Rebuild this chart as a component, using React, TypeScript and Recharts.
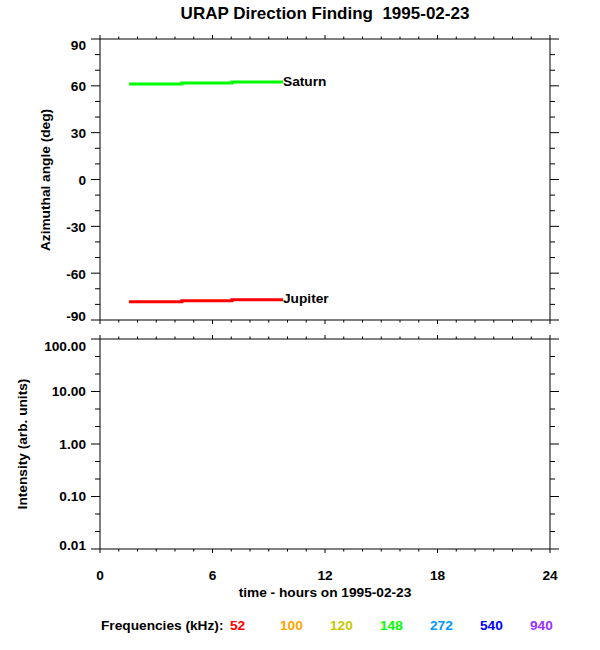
import React from 'react';
import { LineChart, Line, XAxis, YAxis } from 'recharts';

// Direction finding segments (hour of day, azimuth in degrees)
const hours = [1.55, 4.37, 7.04, 9.76];
const saturnDeg = [61.1, 61.8, 62.4, 62.4];
const jupiterDeg = [-78.3, -77.7, -77.0, -77.0];

const hourTicks = Array.from({ length: 25 }, (_, i) => i);
const hourLabels = [0, 6, 12, 18, 24];
const angleTicks = Array.from({ length: 19 }, (_, i) => -90 + i * 10);
const angleLabels = [-90, -60, -30, 0, 30, 60, 90];
const intensityLabels = [0.01, 0.1, 1, 10, 100];
const intensityTicks = [-2, -1, 0, 1].flatMap(k => [k, k + 1 / 3, k + 2 / 3].map(e => Math.pow(10, e))).concat([100]);

const freqLabels = ['52', '100', '120', '148', '272', '540', '940'];
const freqColors = ['#ff0000', '#ffa500', '#c8c800', '#00ff00', '#0099ff', '#0000ff', '#9933ff'];

const FONT = '"Liberation Sans", Arial, Helvetica, sans-serif';
const FS = 13.7;

const dirData = hours.map((t, i) => ({ t, saturn: saturnDeg[i], jupiter: jupiterDeg[i] }));
const emptyData = [{ t: 0 }, { t: 24 }];

function isMajorHour(v: number) {
  return hourLabels.includes(v);
}

function TopTick({ x, y, payload }: any) {
  const len = isMajorHour(payload.value) ? 4 : 2.5;
  return <line x1={x} x2={x} y1={y} y2={y - len} stroke="#000" />;
}

function BottomTick({ x, y, payload, showLabel }: any) {
  const major = isMajorHour(payload.value);
  return (
    <g>
      <line x1={x} x2={x} y1={y} y2={y + (major ? 4 : 2.5)} stroke="#000" />
      {showLabel && major && (
        <text x={x} y={y + 26} textAnchor="middle" dominantBaseline="central"
          fontFamily={FONT} fontWeight="bold" fontSize={FS} fill="#000">
          {payload.value}
        </text>
      )}
    </g>
  );
}

function AngleTick({ x, y, payload }: any) {
  const v = payload.value;
  const major = angleLabels.includes(v);
  const dy = v === 90 ? 6 : v === -90 ? -4 : 1;
  return (
    <g>
      <line x1={x} x2={x - (major ? 9 : 5)} y1={y} y2={y} stroke="#000" />
      {major && (
        <text x={x - 14} y={y + dy} textAnchor="end" dominantBaseline="central"
          fontFamily={FONT} fontWeight="bold" fontSize={FS} fill="#000">
          {v}
        </text>
      )}
    </g>
  );
}

function RightTick({ x, y, payload, majors }: any) {
  const major = majors(payload.value);
  return <line x1={x} x2={x + (major ? 9 : 5)} y1={y} y2={y} stroke="#000" />;
}

function isDecade(v: number) {
  return intensityLabels.some(d => Math.abs(d - v) / d < 1e-6);
}

function IntensityTick({ x, y, payload }: any) {
  const v = payload.value;
  const major = isDecade(v);
  const dy = Math.abs(v - 100) < 1e-6 ? 7 : Math.abs(v - 0.01) < 1e-9 ? -4 : 0;
  return (
    <g>
      <line x1={x} x2={x - (major ? 9 : 5)} y1={y} y2={y} stroke="#000" />
      {major && (
        <text x={x - 14} y={y + dy} textAnchor="end" dominantBaseline="central"
          fontFamily={FONT} fontWeight="bold" fontSize={FS} fill="#000">
          {v.toFixed(2)}
        </text>
      )}
    </g>
  );
}

function endLabel(name: string) {
  return (props: any) => {
    if (props.index !== hours.length - 1) return <g />;
    return (
      <text x={props.x} y={props.y - 1} dominantBaseline="central"
        fontFamily={FONT} fontWeight="bold" fontSize={FS} fill="#000">
        {name}
      </text>
    );
  };
}

const axisLine = { stroke: '#000', strokeWidth: 1 };
const textStyle = { fontSize: FS, fontWeight: 'bold' as const, whiteSpace: 'nowrap' as const };

export default function App() {
  return (
    <div style={{ position: 'absolute', left: 0, top: 0, width: 600, height: 650, background: '#fff', fontFamily: FONT, color: '#000' }}>
      <div style={{ position: 'absolute', left: 325, top: 14, transform: 'translate(-50%, -50%)', whiteSpace: 'pre', fontSize: 17, fontWeight: 'bold' }}>
        {'URAP Direction Finding  1995-02-23'}
      </div>

      <div style={{ position: 'absolute', left: 0, top: 0 }}>
        <LineChart width={600} height={330} data={dirData} margin={{ top: 29, left: 60, right: 30, bottom: 0 }}>
          <XAxis xAxisId="bottom" dataKey="t" type="number" domain={[0, 24]} ticks={hourTicks} interval={0}
            orientation="bottom" height={10} tickSize={0} tickMargin={0} axisLine={axisLine} tickLine={false}
            tick={<BottomTick showLabel={false} />} />
          <XAxis xAxisId="top" dataKey="t" type="number" domain={[0, 24]} ticks={hourTicks} interval={0}
            orientation="top" height={10} tickSize={0} tickMargin={0} axisLine={axisLine} tickLine={false}
            tick={<TopTick />} />
          <YAxis yAxisId="left" type="number" domain={[-90, 90]} ticks={angleTicks} interval={0}
            width={40} tickSize={0} tickMargin={0} axisLine={axisLine} tickLine={false}
            tick={<AngleTick />} allowDataOverflow />
          <YAxis yAxisId="right" orientation="right" type="number" domain={[-90, 90]} ticks={angleTicks} interval={0}
            width={20} tickSize={0} tickMargin={0} axisLine={axisLine} tickLine={false}
            tick={<RightTick majors={(v: number) => angleLabels.includes(v)} />} allowDataOverflow />
          <Line xAxisId="bottom" yAxisId="left" dataKey="saturn" type="stepAfter" stroke="#00ff00" strokeWidth={3}
            dot={false} isAnimationActive={false} label={endLabel('Saturn')} />
          <Line xAxisId="bottom" yAxisId="left" dataKey="jupiter" type="stepAfter" stroke="#ff0000" strokeWidth={3}
            dot={false} isAnimationActive={false} label={endLabel('Jupiter')} />
        </LineChart>
      </div>

      <div style={{ position: 'absolute', left: 0, top: 330 }}>
        <LineChart width={600} height={320} data={emptyData} margin={{ top: 4, left: 60, right: 30, bottom: 61 }}>
          <XAxis xAxisId="bottom" dataKey="t" type="number" domain={[0, 24]} ticks={hourTicks} interval={0}
            orientation="bottom" height={40} tickSize={0} tickMargin={0} axisLine={axisLine} tickLine={false}
            tick={<BottomTick showLabel={true} />} />
          <XAxis xAxisId="top" dataKey="t" type="number" domain={[0, 24]} ticks={hourTicks} interval={0}
            orientation="top" height={5} tickSize={0} tickMargin={0} axisLine={axisLine} tickLine={false}
            tick={<TopTick />} />
          <YAxis yAxisId="left" type="number" scale="log" domain={[0.01, 100]} ticks={intensityTicks} interval={0}
            width={40} tickSize={0} tickMargin={0} axisLine={axisLine} tickLine={false}
            tick={<IntensityTick />} allowDataOverflow />
          <YAxis yAxisId="right" orientation="right" type="number" scale="log" domain={[0.01, 100]} ticks={intensityTicks} interval={0}
            width={20} tickSize={0} tickMargin={0} axisLine={axisLine} tickLine={false}
            tick={<RightTick majors={isDecade} />} allowDataOverflow />
        </LineChart>
      </div>

      <div style={{ ...textStyle, position: 'absolute', left: 45, top: 180, transform: 'translate(-50%, -50%) rotate(-90deg)' }}>
        Azimuthal angle (deg)
      </div>
      <div style={{ ...textStyle, position: 'absolute', left: 22, top: 444, transform: 'translate(-50%, -50%) rotate(-90deg)' }}>
        Intensity (arb. units)
      </div>
      <div style={{ ...textStyle, position: 'absolute', left: 325, top: 592, transform: 'translate(-50%, -50%)' }}>
        time - hours on 1995-02-23
      </div>

      <div style={{ ...textStyle, position: 'absolute', left: 101, top: 625, transform: 'translateY(-50%)' }}>
        Frequencies (kHz):
      </div>
      {freqLabels.map((f, i) => (
        <div key={f} style={{ ...textStyle, position: 'absolute', left: 230 + 50 * i, top: 625, transform: 'translateY(-50%)', color: freqColors[i] }}>
          {f}
        </div>
      ))}
    </div>
  );
}
